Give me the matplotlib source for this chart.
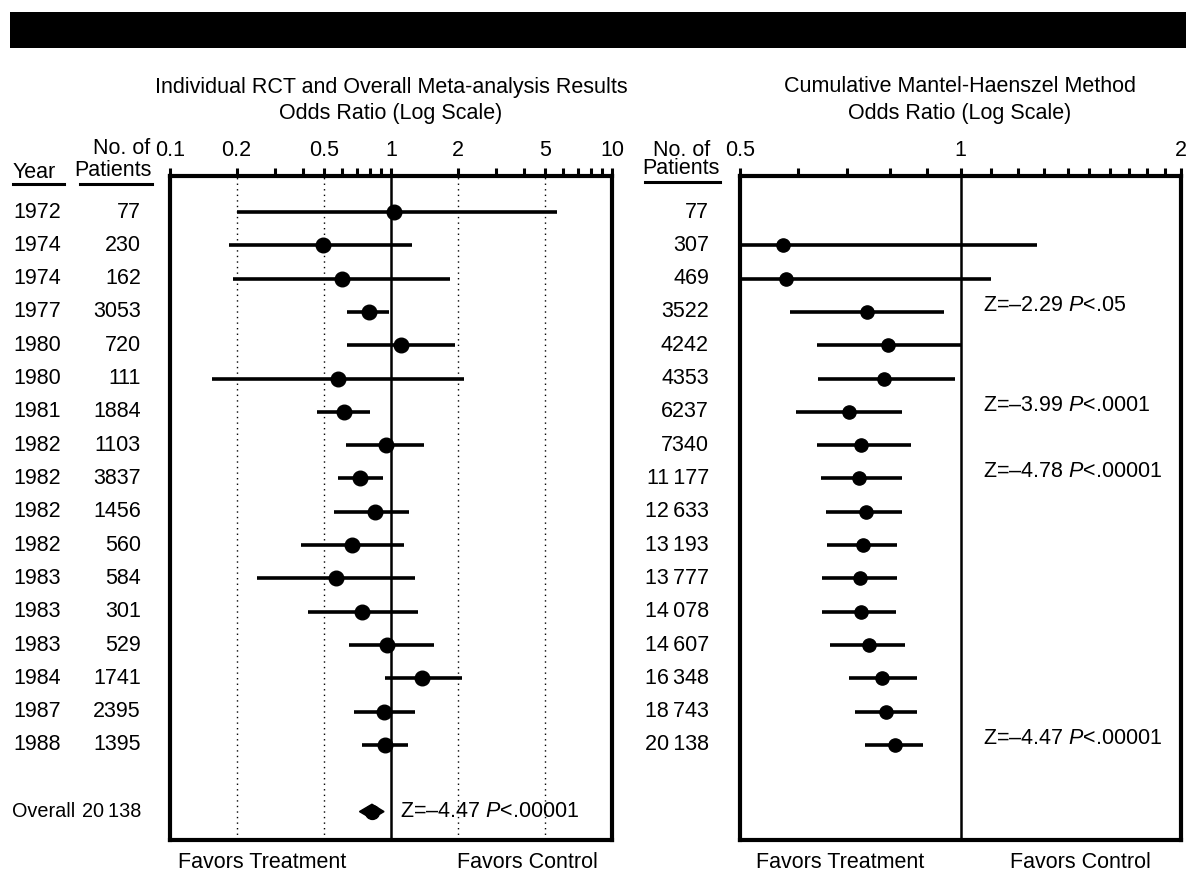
import matplotlib
matplotlib.use("Agg")
import matplotlib.pyplot as plt
from matplotlib.lines import Line2D
from matplotlib.patches import Rectangle, Polygon
from matplotlib.transforms import blended_transform_factory
import numpy as np

plt.rcParams['font.family'] = ['Liberation Sans', 'DejaVu Sans']
plt.rcParams['mathtext.fontset'] = 'custom'
plt.rcParams['mathtext.rm'] = 'Liberation Sans'
plt.rcParams['mathtext.it'] = 'Liberation Sans:italic'

# ---------------- data ----------------
years = ["1972", "1974", "1974", "1977", "1980", "1980", "1981", "1982", "1982",
         "1982", "1982", "1983", "1983", "1983", "1984", "1987", "1988"]
patients = ["77", "230", "162", "3053", "720", "111", "1884", "1103", "3837",
            "1456", "560", "584", "301", "529", "1741", "2395", "1395"]
ind_or = [1.03, 0.49, 0.60, 0.795, 1.11, 0.574, 0.611, 0.946, 0.726,
          0.846, 0.664, 0.562, 0.742, 0.956, 1.38, 0.933, 0.936]
ind_lo = [0.20, 0.185, 0.193, 0.634, 0.634, 0.155, 0.461, 0.626, 0.578,
          0.552, 0.392, 0.247, 0.42, 0.646, 0.94, 0.678, 0.739]
ind_hi = [5.64, 1.25, 1.85, 0.98, 1.95, 2.15, 0.806, 1.41, 0.917,
          1.21, 1.15, 1.28, 1.33, 1.56, 2.10, 1.28, 1.19]
overall_label = "Overall"
overall_n = "20\u2009138"
overall_or = 0.82
overall_lo = 0.72
overall_hi = 0.93
overall_text = r"Z=–4.47 $\it{P}$<.00001"

cum_patients = ["77", "307", "469", "3522", "4242", "4353", "6237", "7340",
                "11\u2009177", "12\u2009633", "13\u2009193", "13\u2009777", "14\u2009078",
                "14\u2009607", "16\u2009348", "18\u2009743", "20\u2009138"]
cum_or = [np.nan, 0.572, 0.577, 0.746, 0.796, 0.786, 0.705, 0.731, 0.727,
          0.742, 0.737, 0.729, 0.731, 0.749, 0.781, 0.790, 0.814]
cum_lo = [np.nan, 0.40, 0.40, 0.585, 0.637, 0.638, 0.596, 0.637, 0.645,
          0.655, 0.657, 0.648, 0.648, 0.664, 0.705, 0.717, 0.741]
cum_hi = [np.nan, 1.27, 1.10, 0.949, 1.00, 0.982, 0.833, 0.857, 0.831,
          0.833, 0.820, 0.819, 0.817, 0.840, 0.873, 0.873, 0.889]
cum_notes_row = [4, 7, 9, 17]
cum_notes = [r"Z=–2.29 $\it{P}$<.05", r"Z=–3.99 $\it{P}$<.0001",
             r"Z=–4.78 $\it{P}$<.00001", r"Z=–4.47 $\it{P}$<.00001"]

left_ticks = [0.1, 0.2, 0.3, 0.4, 0.5, 0.6, 0.7, 0.8, 0.9, 1, 2, 3, 4, 5, 6, 7, 8, 9, 10]
left_labels = {0.1: "0.1", 0.2: "0.2", 0.5: "0.5", 1: "1", 2: "2", 5: "5", 10: "10"}
left_grid = [0.2, 0.5, 2, 5]
right_ticks = [0.5, 0.6, 0.7, 0.8, 0.9, 1.0, 1.1, 1.2, 1.3, 1.4, 1.5, 1.6, 1.7, 1.8, 1.9, 2.0]
right_labels = {0.5: "0.5", 1.0: "1", 2.0: "2"}

# ---------------- figure ----------------
W, H = 1186, 871
fig = plt.figure(figsize=(W / 100, H / 100), dpi=100)

def fx(px):
    return px / W

def fy(py):
    return 1 - py / H

FS = 15.5
FS_OV = 14.3
top_px, bot_px = 176, 840
axL = fig.add_axes([fx(170), fy(bot_px), fx(612) - fx(170), fy(top_px) - fy(bot_px)])
axR = fig.add_axes([fx(740), fy(bot_px), fx(1181) - fx(740), fy(top_px) - fy(bot_px)])

row0_px, dy_px = 212, 33.31
ylo = 1 - (row0_px - top_px) / dy_px
yhi = 1 + (bot_px - row0_px) / dy_px

rows = np.arange(1, len(years) + 1)
overall_row = len(years) + 2

for ax, xl, ticks, labels in [(axL, (0.1, 10), left_ticks, left_labels),
                               (axR, (0.5, 2.0), right_ticks, right_labels)]:
    ax.set_xscale('log')
    ax.set_xlim(*xl)
    ax.set_ylim(yhi, ylo)
    ax.xaxis.tick_top()
    ax.set_xticks(ticks)
    ax.set_xticklabels([labels.get(t, "") for t in ticks], fontsize=FS)
    ax.xaxis.set_minor_locator(matplotlib.ticker.NullLocator())
    ax.tick_params(axis='x', direction='out', length=6, width=2.2, pad=5)
    ax.set_yticks([])
    for s in ax.spines.values():
        s.set_linewidth(3)
    ax.axvline(1, color='black', lw=1.8, zorder=1)

for g in left_grid:
    axL.axvline(g, color='black', lw=1.0, ls=(0, (1, 3)), zorder=1)

# left panel
axL.hlines(rows, ind_lo, ind_hi, color='black', lw=2.6, zorder=2)
axL.plot(ind_or, rows, 'o', color='black', ms=10.5, zorder=3)
dh = 0.22
axL.add_patch(Polygon([(overall_lo, overall_row), (overall_or, overall_row - dh),
                       (overall_hi, overall_row), (overall_or, overall_row + dh)],
                      closed=True, color='black', zorder=3))
axL.plot([overall_or], [overall_row], 'o', color='black', ms=10, zorder=3)
axL.text(1.1, overall_row, overall_text, fontsize=FS, va='center', ha='left')

# right panel
axR.hlines(rows, cum_lo, cum_hi, color='black', lw=2.6, zorder=2)
axR.plot(cum_or, rows, 'o', color='black', ms=9.5, zorder=3)
for r, t in zip(cum_notes_row, cum_notes):
    axR.text(1.072, r - 0.2, t, fontsize=FS, va='center', ha='left')

# row labels
trL = blended_transform_factory(fig.transFigure, axL.transData)
for r, yv, n in zip(rows, years, patients):
    axL.text(fx(13), r, yv, transform=trL, fontsize=FS, va='center', ha='left')
    axL.text(fx(141), r, n, transform=trL, fontsize=FS, va='center', ha='right')
axL.text(fx(12), overall_row, overall_label, transform=trL, fontsize=FS_OV, va='center', ha='left')
axL.text(fx(141), overall_row, overall_n, transform=trL, fontsize=FS_OV, va='center', ha='right')

trR = blended_transform_factory(fig.transFigure, axR.transData)
for r, n in zip(rows, cum_patients):
    axR.text(fx(709), r, n, transform=trR, fontsize=FS, va='center', ha='right')

# headers
fig.text(fx(13), fy(173), "Year", fontsize=FS, va='center', ha='left')
fig.text(fx(150), fy(149), "No. of", fontsize=FS, va='center', ha='right')
fig.text(fx(152), fy(170), "Patients", fontsize=FS, va='center', ha='right')
fig.text(fx(710), fy(150), "No. of", fontsize=FS, va='center', ha='right')
fig.text(fx(720), fy(169), "Patients", fontsize=FS, va='center', ha='right')
for x0, x1, yy in [(13, 64, 184), (80, 152, 184), (645, 720, 182)]:
    fig.add_artist(Line2D([fx(x0), fx(x1)], [fy(yy), fy(yy)], color='black', lw=2.2))

# titles
fig.text(fx(391), fy(87), "Individual RCT and Overall Meta-analysis Results",
         fontsize=FS, ha='center', va='center')
fig.text(fx(391), fy(113), "Odds Ratio (Log Scale)", fontsize=FS, ha='center', va='center')
fig.text(fx(960), fy(87), "Cumulative Mantel-Haenszel Method", fontsize=FS, ha='center', va='center')
fig.text(fx(960), fy(113), "Odds Ratio (Log Scale)", fontsize=FS, ha='center', va='center')

# bottom labels
for xc, t in [(262, "Favors Treatment"), (527, "Favors Control"),
              (840, "Favors Treatment"), (1080, "Favors Control")]:
    fig.text(fx(xc), fy(862), t, fontsize=FS, ha='center', va='center')

# top black bar
fig.add_artist(Rectangle((fx(10), fy(48)), 1 - fx(10), fy(12) - fy(48),
                         transform=fig.transFigure, color='black', lw=0))

fig.savefig("out.png", dpi=100)
